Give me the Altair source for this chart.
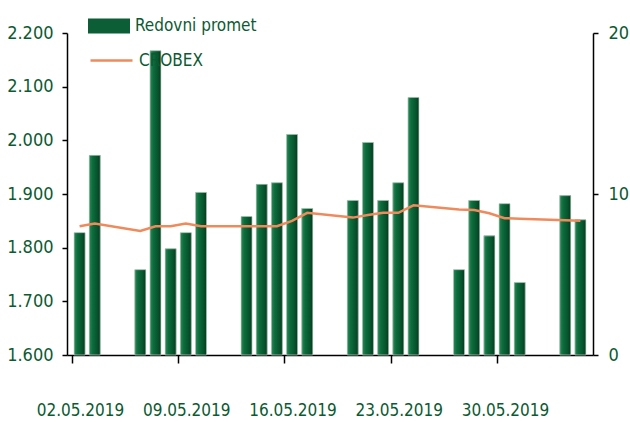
import altair as alt
import pandas as pd

# ---- data ----
dates = ["02.05.2019", "03.05.2019",
         "06.05.2019", "07.05.2019", "08.05.2019", "09.05.2019", "10.05.2019",
         "13.05.2019", "14.05.2019", "15.05.2019", "16.05.2019", "17.05.2019",
         "20.05.2019", "21.05.2019", "22.05.2019", "23.05.2019", "24.05.2019",
         "27.05.2019", "28.05.2019", "29.05.2019", "30.05.2019", "31.05.2019",
         "03.06.2019", "04.06.2019"]
promet = [7.6, 12.4,
          5.3, 18.9, 6.6, 7.6, 10.1,
          8.6, 10.6, 10.7, 13.7, 9.1,
          9.6, 13.2, 9.6, 10.7, 16.0,
          5.3, 9.6, 7.4, 9.4, 4.5,
          9.9, 8.4]
crobex = [1840, 1845,
          1831, 1840, 1840, 1845, 1840,
          1840, 1840, 1840, 1850, 1865,
          1856, 1861, 1865, 1865, 1879,
          1871, 1870, 1864, 1855, 1854,
          1851, 1850]
axis_start = "02.05.2019"
axis_end = "05.06.2019"
tick_labels = ["02.05.2019", "09.05.2019", "16.05.2019", "23.05.2019", "30.05.2019"]

# ---- build table ----
t0 = pd.to_datetime(axis_start, format="%d.%m.%Y")
t1 = pd.to_datetime(axis_end, format="%d.%m.%Y")
span = (t1 - t0).days
dt = pd.to_datetime(pd.Series(dates), format="%d.%m.%Y")
df = pd.DataFrame({
    "datum": dates,
    "day": (dt - t0).dt.days + 0.5,
    "promet": promet,
    "crobex": crobex,
    "s_bar": "Redovni promet",
    "s_line": "CROBEX",
})
tick_vals = [int((pd.to_datetime(d, format="%d.%m.%Y") - t0).days) for d in tick_labels]
label_expr = "{" + ",".join(f"'{v}':'{l}'" for v, l in zip(tick_vals, tick_labels)) + "}[datum.value]"

GREEN_TXT = "#0b5a31"
FONT = "DejaVu Sans Condensed"
LINE_COL = "#ef8a5c"

x_enc = alt.X("day:Q",
              scale=alt.Scale(domain=[0, span], nice=False, zero=False),
              axis=alt.Axis(values=tick_vals, labelExpr=label_expr, title=None,
                            grid=False, tickSize=8, labelPadding=47, labelOffset=8,
                            labelFontSize=17, labelAlign="center", labelBaseline="middle"))

right_axis = alt.Axis(orient="right", values=[0, 10, 20], title=None, grid=False,
                      tickSize=5, labelPadding=10, labelFontSize=18)
y_bar_scale = alt.Scale(domain=[0, 20], nice=False)

base = alt.Chart(df)

bars_solid = base.mark_bar(size=11).encode(
    x=x_enc,
    y=alt.Y("promet:Q", scale=y_bar_scale, axis=right_axis),
    fill=alt.Fill("s_bar:N",
                  scale=alt.Scale(domain=["Redovni promet"], range=["#0b5e35"]),
                  legend=alt.Legend(orient="none", legendX=21, legendY=-28, title=None,
                                    symbolType="M-1,-0.36L1,-0.36L1,0.36L-1,0.36Z",
                                    symbolSize=1764, symbolStrokeWidth=0,
                                    labelFontSize=17, labelOffset=5, padding=0)),
)

grad = alt.Gradient(
    gradient="linear",
    stops=[alt.GradientStop(offset=0, color="#2b8a58"),
           alt.GradientStop(offset=0.3, color="#0d6c3c"),
           alt.GradientStop(offset=0.75, color="#07522c"),
           alt.GradientStop(offset=1, color="#033a1e")],
    x1=0, x2=1, y1=0, y2=0,
)
bars_grad = base.mark_bar(size=11, fill=grad, stroke="#c4d2c8", strokeWidth=0.7).encode(
    x=alt.X("day:Q"),
    y=alt.Y("promet:Q", scale=y_bar_scale, axis=right_axis),
)

bars = alt.layer(bars_solid, bars_grad)

line = base.mark_line(strokeWidth=2.5).encode(
    x=alt.X("day:Q"),
    y=alt.Y("crobex:Q",
            scale=alt.Scale(domain=[1600, 2200], nice=False, zero=False),
            axis=alt.Axis(orient="left", values=[1600, 1700, 1800, 1900, 2000, 2100, 2200],
                          labelExpr="replace(format(datum.value, ','), ',', '.')",
                          title=None, grid=False, tickSize=5, labelPadding=9,
                          labelFontSize=18)),
    stroke=alt.Stroke("s_line:N",
                      scale=alt.Scale(domain=["CROBEX"], range=[LINE_COL]),
                      legend=alt.Legend(orient="none", legendX=22, legendY=5, title=None,
                                        symbolType="stroke", symbolSize=1764,
                                        symbolStrokeWidth=2.5,
                                        labelFontSize=17, labelOffset=5, padding=0)),
)

chart = alt.layer(bars, line).resolve_scale(
    y="independent", fill="independent", stroke="independent"
).properties(
    width=526, height=322,
    autosize=alt.AutoSizeParams(type="none"),
    padding={"left": 67, "top": 33, "right": 37, "bottom": 67},
    background="white",
).configure_view(
    stroke=None
).configure_axis(
    labelFont=FONT, labelColor=GREEN_TXT, domainColor="black", domainWidth=1.5,
    tickColor="black", tickWidth=1.5,
).configure_legend(
    labelFont=FONT, labelColor=GREEN_TXT,
)

chart.save("out.html", embed_options={"renderer": "svg", "actions": False})
